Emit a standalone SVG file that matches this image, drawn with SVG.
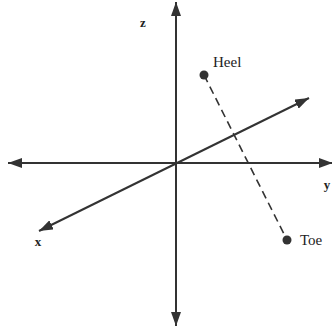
<svg xmlns="http://www.w3.org/2000/svg" width="332" height="332" viewBox="0 0 332 332">
<style>
.ax{stroke:#333;stroke-width:2;fill:none}
.lbl{font-family:"Liberation Serif","Times New Roman",serif;font-size:13px;font-weight:bold;fill:#222}
.pt{font-family:"Liberation Serif","Times New Roman",serif;font-size:15px;fill:#222}
.dot{fill:#333}
</style>
<defs>
<marker id="ah" viewBox="0 0 14 10" refX="14" refY="5" markerWidth="14" markerHeight="10" markerUnits="userSpaceOnUse" orient="auto-start-reverse">
<path d="M0,0 L14,5 L0,10 Z" fill="#333"/>
</marker>
</defs>
<g id="connectors">
<line class="ax" x1="176" y1="2" x2="176" y2="326" marker-start="url(#ah)" marker-end="url(#ah)"/>
<line class="ax" x1="8" y1="163" x2="333" y2="163" marker-start="url(#ah)" marker-end="url(#ah)"/>
<line class="ax" x1="39" y1="231" x2="309" y2="98" marker-start="url(#ah)" marker-end="url(#ah)"/>
<line x1="204" y1="75" x2="287" y2="240" stroke="#333" stroke-width="1.6" stroke-dasharray="8,5"/>
</g>
<g id="axis-labels">
<text class="lbl" x="143" y="27" text-anchor="middle">z</text>
<text class="lbl" x="38" y="246" text-anchor="middle">x</text>
<text class="lbl" x="327" y="189" text-anchor="middle">y</text>
</g>
<g id="heel">
<circle class="dot" cx="204" cy="75" r="4.5"/>
<text class="pt" x="213" y="67">Heel</text>
</g>
<g id="toe">
<circle class="dot" cx="287" cy="240" r="4.5"/>
<text class="pt" x="300" y="245">Toe</text>
</g>
</svg>
